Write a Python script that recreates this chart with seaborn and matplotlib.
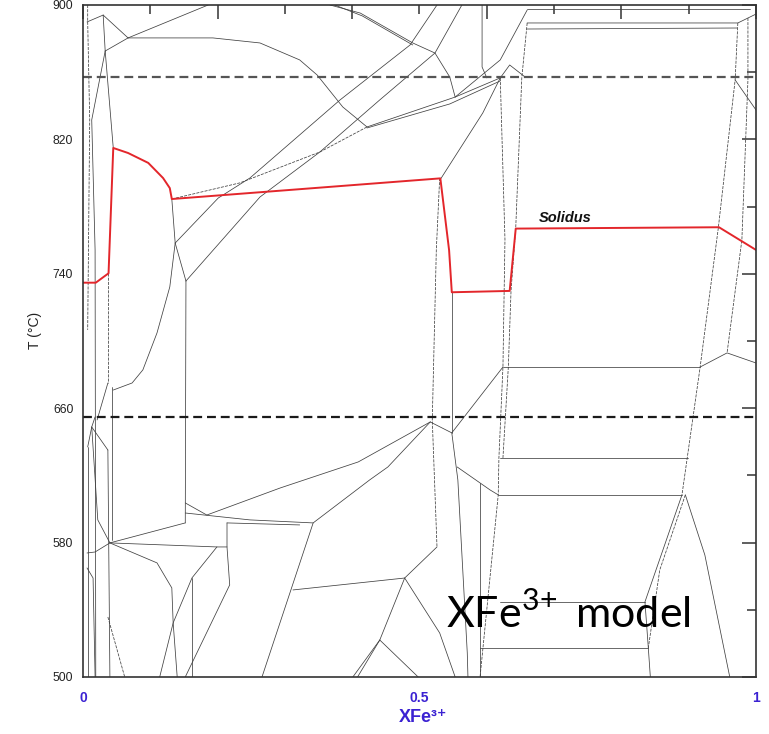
import numpy as np
import pandas as pd
import matplotlib
matplotlib.use("Agg")
import matplotlib.pyplot as plt
import seaborn as sns
from matplotlib.ticker import FixedLocator, FixedFormatter

# red solidus curve (XFe3+ fraction, T in degC)
solidus_x = [0, 0.019, 0.038, 0.045, 0.067, 0.097, 0.119, 0.129, 0.132,
             0.531, 0.544, 0.548, 0.634, 0.643, 0.945, 1.0]
solidus_T = [734.7, 734.7, 740.3, 814.9, 811.9, 806.0, 797.0, 791.0, 784.5,
             796.8, 754.0, 729.0, 729.8, 766.9, 767.7, 754.2]

# dashed isotherms
isotherms = [857.0, 654.5]

# field boundaries, upper half of the section
upper_lines = [
    ([0.006, 0.030], [889.9, 894.0]),
    ([0.030, 0.067], [894.0, 880.4]),
    ([0.030, 0.033], [894.0, 872.6]),
    ([0.033, 0.067], [872.6, 880.4]),
    ([0.067, 0.186], [880.4, 900]),
    ([0.033, 0.013, 0.018, 0.019], [872.6, 831.6, 754.2, 500]),
    ([0.033, 0.045], [872.6, 814.9]),
    ([0.067, 0.193, 0.263, 0.322, 0.348, 0.386, 0.422],
     [880.4, 880.4, 877.4, 867.3, 858.3, 839.3, 827.4]),
    ([0.132, 0.137], [784.5, 758.3]),
    ([0.137, 0.153], [758.3, 735.7]),
    ([0.153, 0.152], [735.7, 591.7]),
    ([0.137, 0.201, 0.248, 0.382, 0.486, 0.526], [758.3, 785.1, 797.0, 843.5, 876.2, 900]),
    ([0.153, 0.263, 0.352, 0.441, 0.523, 0.563], [735.7, 785.7, 812.5, 843.5, 871.4, 900]),
    ([0.422, 0.553, 0.620], [827.4, 845.2, 856.6]),
    ([0.422, 0.545, 0.620], [826.8, 841.1, 854.8]),
    ([0.367, 0.412, 0.490, 0.523, 0.545, 0.553], [900, 895.2, 877.4, 871.4, 857.1, 845.2]),
    ([0.374, 0.415, 0.490], [900, 893.5, 876.2]),
    ([0.553, 0.620, 0.660], [845.2, 867.3, 897.0]),
    ([0.620, 0.634, 0.657], [856.6, 864.3, 857.1]),
    ([0.593, 0.593, 0.600], [900, 863.1, 856.6]),
    ([0.532, 0.594, 0.620], [796.8, 835.7, 856.6]),
    ([0.660, 0.991], [897.6, 897.6]),
    ([0.660, 0.973, 1.0], [889.3, 889.3, 894.6]),
    ([0.660, 0.972], [885.7, 886.3]),
    ([0.969, 1.0], [855.4, 837.5]),
    ([0.045, 0.073, 0.089, 0.110, 0.129, 0.137], [670.8, 675.0, 682.8, 704.8, 732.2, 758.3]),
]

# dashed-looking boundaries
dotted_lines = [
    ([0.007, 0.007, 0.010, 0.007], [900, 889.9, 831.6, 706.6]),
    ([0.132, 0.233, 0.352, 0.422], [784.5, 794.1, 812.5, 827.4]),
    ([0.620, 0.627, 0.624, 0.618, 0.617, 0.590], [856.6, 760.3, 684.5, 630.4, 608.4, 500]),
    ([0.660, 0.652, 0.643, 0.636, 0.632, 0.624], [889.3, 856.6, 767.3, 729.8, 684.5, 630.4]),
    ([0.973, 0.969, 0.944, 0.917, 0.890], [889.3, 855.4, 767.3, 684.5, 608.4]),
    ([0.988, 0.988, 0.979, 0.957], [892.3, 855.4, 760.1, 692.9]),
    ([0.530, 0.525, 0.519, 0.526], [797.0, 754.2, 653.0, 577.4]),
    ([0.895, 0.857, 0.840], [608.4, 563.7, 517.3]),
    ([0.037, 0.062], [535.7, 500]),
    ([0.037, 0.037], [740.5, 675.0]),
]

# field boundaries, right part of the section
right_lines = [
    ([0.917, 0.957, 1.0], [684.5, 692.9, 686.9]),
    ([0.624, 0.917], [684.5, 684.5]),
    ([0.620, 0.899], [630.4, 630.4]),
    ([0.617, 0.890], [608.4, 608.4]),
    ([0.620, 0.835], [544.7, 544.7]),
    ([0.590, 0.840], [517.3, 517.3]),
    ([0.890, 0.835, 0.840, 0.843], [608.4, 544.7, 517.3, 500]),
    ([0.895, 0.924, 0.961], [608.4, 572.6, 500]),
    ([0.548, 0.548], [729.2, 645.3]),
    ([0.516, 0.548, 0.624], [651.8, 645.3, 684.5]),
    ([0.548, 0.557, 0.571, 0.572], [645.3, 617.3, 514.3, 500]),
    ([0.556, 0.605, 0.617], [625.0, 611.3, 608.4]),
    ([0.590, 0.590], [615.5, 500]),
]

# field boundaries, lower half of the section
lower_lines = [
    ([0.152, 0.184, 0.293, 0.409, 0.516], [603.6, 596.4, 612.5, 628.0, 651.8]),
    ([0.516, 0.453, 0.426, 0.342, 0.266], [651.8, 625.0, 617.3, 591.7, 500]),
    ([0.152, 0.248, 0.342], [597.6, 593.5, 591.7]),
    ([0.214, 0.322], [591.7, 590.5]),
    ([0.312, 0.478, 0.526], [551.8, 558.9, 577.4]),
    ([0.478, 0.441, 0.401], [558.9, 522.0, 500]),
    ([0.441, 0.408], [522.0, 500]),
    ([0.441, 0.498], [522.0, 500]),
    ([0.478, 0.530, 0.553], [558.9, 526.2, 500]),
    ([0.152, 0.040], [591.7, 579.8]),
    ([0.040, 0.199, 0.214], [579.8, 577.4, 577.4]),
    ([0.214, 0.214, 0.218, 0.152], [591.7, 577.4, 554.8, 500]),
    ([0.199, 0.162, 0.134, 0.114], [577.4, 559.0, 532.2, 500]),
    ([0.162, 0.162], [559.0, 500]),
    ([0.040, 0.110, 0.132, 0.134, 0.140], [579.8, 567.9, 553.0, 532.2, 500]),
    ([0.037, 0.040], [635.1, 500]),
    ([0.043, 0.043], [672.6, 581.6]),
    ([0.037, 0.021], [675.0, 653.0]),
    ([0.018, 0.013, 0.037], [654.8, 648.8, 635.1]),
    ([0.013, 0.007], [648.8, 636.9]),
    ([0.040, 0.018, 0.006], [579.8, 574.4, 573.8]),
    ([0.006, 0.015, 0.018], [564.9, 558.9, 500]),
    ([0.013, 0.022, 0.040], [648.8, 593.5, 579.8]),
    ([0.007, 0.007], [636.9, 500]),
]


def to_frame(lines):
    rows = []
    for i, (xs, ts) in enumerate(lines):
        for x, t in zip(xs, ts):
            rows.append((i, x, t))
    return pd.DataFrame(rows, columns=["seg", "x", "T"])


sns.set_theme(style="white")
plt.rcParams["font.family"] = ["Liberation Sans", "DejaVu Sans"]
plt.rcParams["mathtext.fontset"] = "custom"
plt.rcParams["mathtext.rm"] = "Lato"

blue = "#3b22d2"
fig = plt.figure(figsize=(7.69, 7.34), dpi=100)
ax = fig.add_axes([0.1079, 0.0777, 0.8752, 0.9155])

solid = to_frame(upper_lines + right_lines + lower_lines)
sns.lineplot(data=solid, x="x", y="T", units="seg", estimator=None, sort=False,
             color="#404040", lw=0.55, ax=ax)
dotted = to_frame(dotted_lines)
sns.lineplot(data=dotted, x="x", y="T", units="seg", estimator=None, sort=False,
             color="#404040", lw=0.55, linestyle=(0, (4, 1.5)), ax=ax)

for t, c in zip(isotherms, ["#555555", "#1a1a1a"]):
    ax.axhline(t, color=c, lw=1.6, dashes=(4, 2.2))

sns.lineplot(x=solidus_x, y=solidus_T, sort=False, estimator=None,
             color="#e3262b", lw=1.4, ax=ax)

ax.text(0.717, 770.6, "Solidus", ha="center", va="baseline", fontsize=10.5,
        fontweight="bold", style="italic", color="#111111")
ax.text(0.540, 529.5, r"XFe$^{3\!+}$ model", ha="left", va="baseline",
        fontsize=31, family="Lato", color="black")

ax.set_xlim(0, 1)
ax.set_ylim(500, 900)
ax.xaxis.set_major_locator(FixedLocator([0, 0.2, 0.4, 0.6, 0.8, 1.0]))
ax.xaxis.set_major_formatter(FixedFormatter(["0", "", "", "", "", "1"]))
ax.xaxis.set_minor_locator(FixedLocator([0.1, 0.3, 0.5, 0.7, 0.9]))
ax.xaxis.set_minor_formatter(FixedFormatter(["", "", "0.5", "", ""]))
ax.yaxis.set_major_locator(FixedLocator([500, 580, 660, 740, 820, 900]))
ax.yaxis.set_minor_locator(FixedLocator([540, 620, 700, 780, 860]))
ax.tick_params(which="both", direction="in", top=True, right=True,
               color="#333333", width=1.1)
ax.tick_params(which="major", length=10)
ax.tick_params(which="minor", length=6.5)
ax.tick_params(axis="x", which="both", pad=10, labelsize=10,
               labelcolor=blue)
ax.tick_params(axis="y", which="both", pad=7, labelsize=8.7,
               labelcolor="#222222")
for lab in ax.get_xticklabels(which="both"):
    lab.set_fontweight("bold")
for s in ax.spines.values():
    s.set_color("#333333")
    s.set_linewidth(1.2)
ax.set_xlabel("")
ax.set_ylabel("")

fig.text(35 / 769, 1 - 330 / 734, "T (°C)", rotation=90, ha="center",
         va="center", fontsize=10, color="#222222")
fig.text(423 / 769, 1 - 718 / 734, "XFe³⁺", ha="center",
         va="center", fontsize=13, fontweight="bold", color=blue)

fig.savefig("out.png", dpi=100)
